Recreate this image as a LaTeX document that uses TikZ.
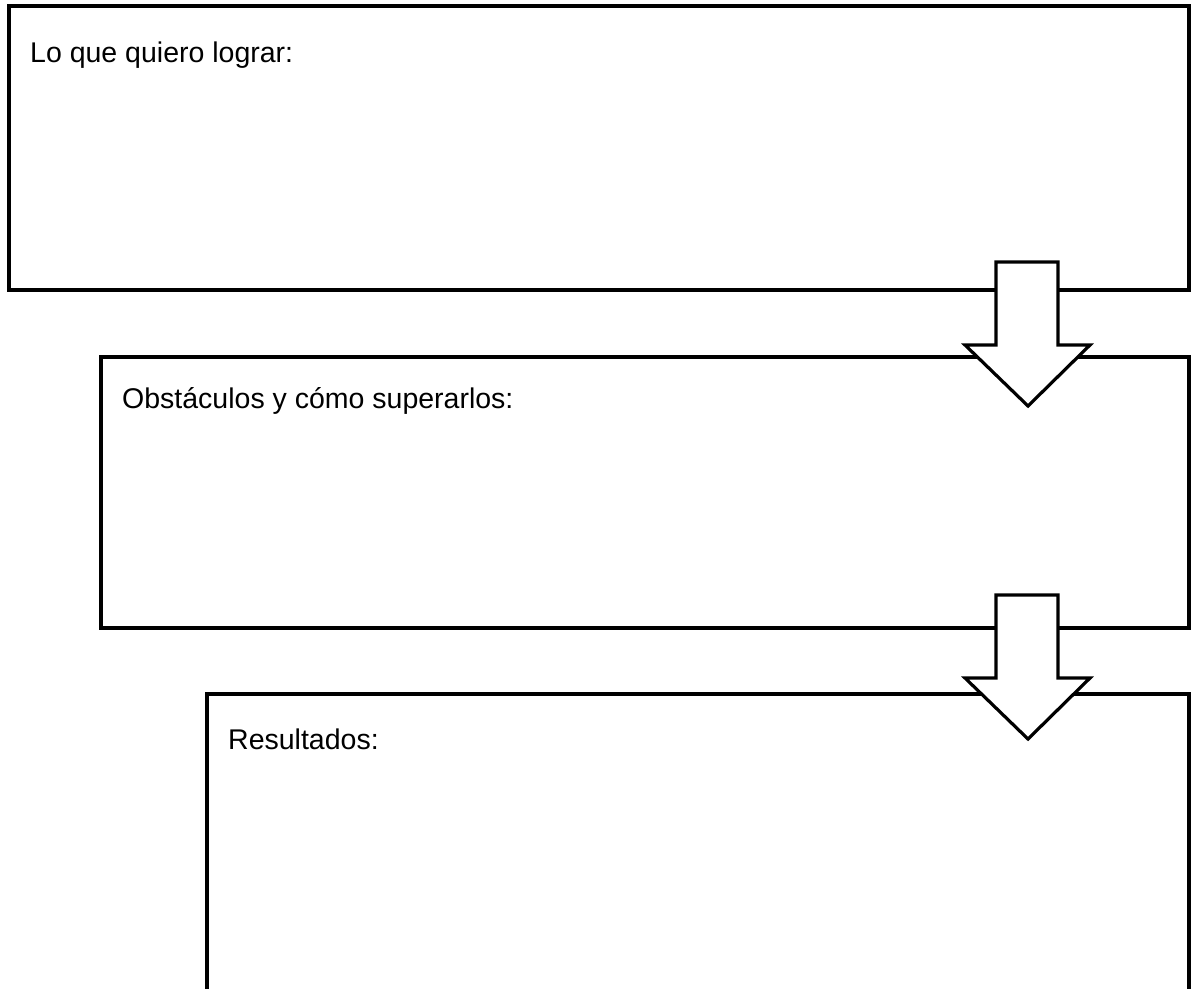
\documentclass[tikz,border=0pt]{standalone}
\usepackage{fontspec}
\setmainfont{Liberation Sans}
\tikzset{
  framebox/.style={draw=black, line width=3.2pt, fill=white},
  boxlabel/.style={anchor=base west, inner sep=0pt, font=\fontsize{28.5}{34}\selectfont},
  blockarrow/.style={draw=black, line width=3.2pt, fill=white, line join=miter},
}
\begin{document}
\begin{tikzpicture}[x=1pt,y=-1pt]
\useasboundingbox (0,0) rectangle (1193,988);
\clip (0,0) rectangle (1193,988);
\fill[white] (0,0) rectangle (1193,988);
% boxes
\draw[framebox] (9,6) rectangle (1189,290);
\node (b1) at (9,6) {};
\draw[framebox] (101,357) rectangle (1189,628);
\node (b2) at (101,357) {};
\draw[framebox] (207,694) rectangle (1189,1010);
\node (b3) at (207,694) {};
% labels
\node[boxlabel] (t1) at (30,62) {Lo que quiero lograr:};
\node[boxlabel] (t2) at (122,408) {Obstáculos y cómo superarlos:};
\node[boxlabel] (t3) at (228,749) {Resultados:};
% block arrows
\draw[blockarrow] (996,262) -- (1058,262) -- (1058,345) -- (1090,345) -- (1028,406) -- (965,345) -- (996,345) -- cycle;
\draw[blockarrow] (996,595) -- (1058,595) -- (1058,678) -- (1090,678) -- (1028,739) -- (965,678) -- (996,678) -- cycle;
\end{tikzpicture}
\end{document}
